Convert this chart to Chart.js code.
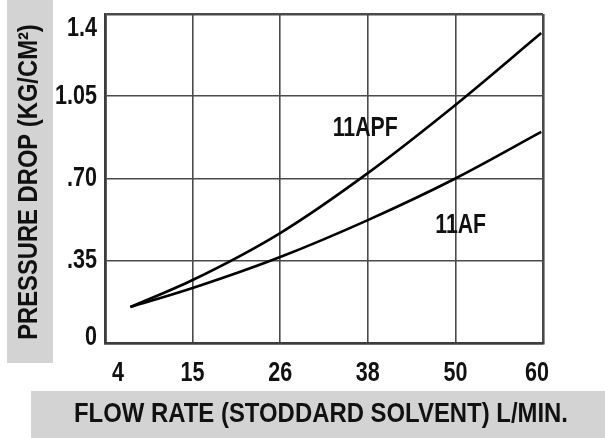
<!DOCTYPE html>
<html>
<head>
<meta charset="utf-8">
<script src="https://cdn.jsdelivr.net/npm/chart.js@4"></script>
<style>
  html, body { margin: 0; padding: 0; background: #fff; }
  #wrap { width: 605px; height: 438px; position: relative; }
</style>
</head>
<body>
<div id="wrap"><canvas id="chart"></canvas></div>
<script>
// flow rate ticks are evenly spaced on the chart, so x is a position index
const xTickPos = [0, 1, 2, 3, 4, 5];
const xTickLabels = ["4", "15", "26", "38", "50", "60"];
const yTickValues = [0, 0.35, 0.70, 1.05, 1.4];
const yTickLabels = ["0", ".35", ".70", "1.05", "1.4"];

const curveX = [0.29, 1, 2, 3, 4, 4.98];
const apfY = [0.153, 0.268, 0.468, 0.723, 1.013, 1.319];
const afY = [0.153, 0.234, 0.366, 0.523, 0.700, 0.898];

const curveLabels = [
  { text: "11APF", x: 2.97, y: 0.915 },
  { text: "11AF", x: 4.06, y: 0.502 }
];

const FONT = '"Liberation Sans", Arial, sans-serif';
const GRAY = "#d3d3d3";
const INK = "#111";

const toPoints = (xs, ys) => xs.map((x, i) => ({ x: x, y: ys[i] }));

// the original lettering is a tall condensed bold face, so squeeze it sideways
function narrowText(ctx, text, x, y, size, squeeze, align, maxW) {
  ctx.save();
  ctx.translate(x, y);
  ctx.scale(squeeze, 1);
  ctx.font = "bold " + size + "px " + FONT;
  ctx.textAlign = align;
  ctx.textBaseline = "middle";
  if (maxW) ctx.fillText(text, 0, 0, maxW / squeeze);
  else ctx.fillText(text, 0, 0);
  ctx.restore();
}

const decor = {
  id: "decor",
  beforeDraw(chart) {
    const ctx = chart.ctx;
    ctx.save();
    ctx.fillStyle = "#fff";
    ctx.fillRect(0, 0, chart.width, chart.height);
    ctx.fillStyle = GRAY;
    ctx.fillRect(7, 0, 46, 363);
    ctx.fillRect(31, 391, 574, 47);
    ctx.restore();
  },
  afterDraw(chart) {
    const ctx = chart.ctx;
    const xs = chart.scales.x, ys = chart.scales.y;
    ctx.save();
    ctx.fillStyle = INK;

    // tick labels, placed from the chart's own scales
    xs.ticks.forEach((t, i) => {
      let px = xs.getPixelForValue(t.value);
      if (i === 0) px += 13;
      if (i === xs.ticks.length - 1) px -= 6;
      narrowText(ctx, xTickLabels[i], px, xs.top + 30, 28, 0.77, "center");
    });
    ys.ticks.forEach((t, i) => {
      let py = ys.getPixelForValue(t.value);
      if (i === 0) py -= 6;
      if (i === ys.ticks.length - 1) py += 14;
      narrowText(ctx, yTickLabels[i], ys.right - 8, py, 28, 0.77, "right");
    });

    narrowText(ctx, "FLOW RATE (STODDARD SOLVENT) L/MIN.", 321, 414, 28, 0.86, "center", 494);

    ctx.save();
    ctx.translate(30, 182);
    ctx.rotate(-Math.PI / 2);
    narrowText(ctx, "PRESSURE DROP (KG/CM\u00B2)", 0, 0, 27, 0.88, "center", 318);
    ctx.restore();

    curveLabels.forEach(l => {
      narrowText(ctx, l.text, xs.getPixelForValue(l.x), ys.getPixelForValue(l.y), 28, 0.76, "center");
    });
    ctx.restore();
  }
};

const edgeWidth = (ctx, last) => (ctx.index === 0 || ctx.index === last) ? 2.6 : 1.6;

new Chart(document.getElementById("chart"), {
  type: "line",
  data: {
    datasets: [
      {
        label: "11APF",
        data: toPoints(curveX, apfY),
        borderColor: "#000",
        borderWidth: 2.6,
        pointRadius: 0,
        cubicInterpolationMode: "monotone",
        fill: false
      },
      {
        label: "11AF",
        data: toPoints(curveX, afY),
        borderColor: "#000",
        borderWidth: 2.6,
        pointRadius: 0,
        cubicInterpolationMode: "monotone",
        fill: false
      }
    ]
  },
  options: {
    responsive: true,
    maintainAspectRatio: false,
    animation: false,
    layout: { padding: { left: 0, top: 14, right: 62, bottom: 0 } },
    plugins: {
      legend: { display: false },
      tooltip: { enabled: false }
    },
    scales: {
      x: {
        type: "linear",
        min: 0,
        max: 5,
        afterBuildTicks: s => { s.ticks = xTickPos.map(v => ({ value: v })); },
        afterFit: s => { s.height = 95; },
        ticks: { display: false },
        grid: {
          color: "#4a4a4a",
          lineWidth: c => edgeWidth(c, xTickPos.length - 1),
          drawTicks: false
        },
        border: { color: "#3c3c3c", width: 2.6 }
      },
      y: {
        min: 0,
        max: 1.4,
        afterBuildTicks: s => { s.ticks = yTickValues.map(v => ({ value: v })); },
        afterFit: s => { s.width = 105; },
        ticks: { display: false },
        grid: {
          color: "#4a4a4a",
          lineWidth: c => edgeWidth(c, yTickValues.length - 1),
          drawTicks: false
        },
        border: { color: "#3c3c3c", width: 2.6 }
      }
    }
  },
  plugins: [decor]
});
</script>
</body>
</html>
